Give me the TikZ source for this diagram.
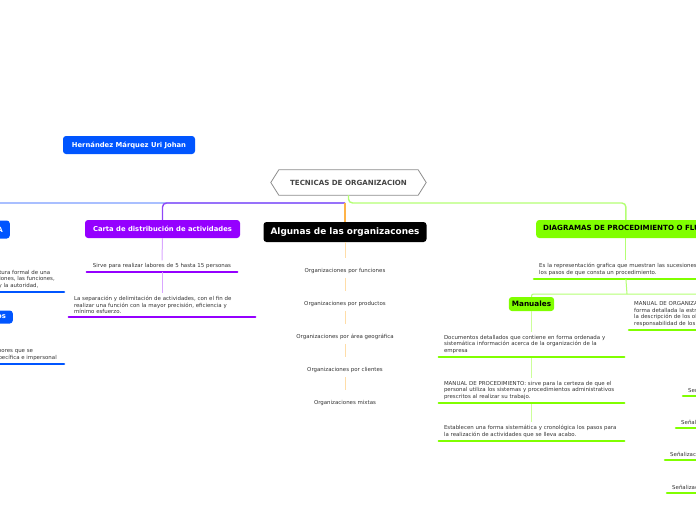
\documentclass[tikz,border=0pt]{standalone}
\usepackage{fontspec}
\setmainfont{DejaVu Sans}
\usetikzlibrary{calc}
\definecolor{bluebox}{HTML}{0055FF}
\definecolor{blueline}{HTML}{7B9CFF}
\definecolor{purplebox}{HTML}{9500FF}
\definecolor{purpleline}{HTML}{8F47F7}
\definecolor{purplelight}{HTML}{D9A6FF}
\definecolor{greenbox}{HTML}{80FF00}
\definecolor{greenline}{HTML}{B3FF73}
\definecolor{greenlight}{HTML}{CCFF99}
\definecolor{orangeline}{HTML}{FFB347}
\definecolor{orangelight}{HTML}{FFDDA8}
\definecolor{txt}{HTML}{333333}
\definecolor{titlegray}{HTML}{8C8C8C}
\definecolor{titletext}{HTML}{444444}
\tikzset{
  box/.style={rounded corners=3pt, inner xsep=7pt, inner ysep=0pt, minimum height=18pt,
    font=\bfseries\fontsize{6.8}{8}\selectfont},
  item/.style={font=\fontsize{5.45}{6.7}\selectfont, text=txt, inner xsep=5pt, inner ysep=3pt, align=left},
  orgitem/.style={font=\fontsize{5.45}{6.7}\selectfont, text=txt, inner xsep=0pt, inner ysep=4pt, align=center},
  ul/.style={line width=2.6pt, line cap=round},
  mainline/.style={line width=1.4pt, rounded corners=4pt},
  subline/.style={line width=1pt},
}
\begin{document}
\begin{tikzpicture}[x=1pt,y=-1pt]
\useasboundingbox (0,0) rectangle (696,520);
\clip (0,0) rectangle (696,520);

% name box
\node[box, fill=bluebox, text=white, minimum width=132pt] (name) at (129,145) {Hernández Márquez Uri Johan};

% title
\node[minimum width=155pt, minimum height=25pt, inner sep=0pt,
  font=\bfseries\fontsize{7.1}{8}\selectfont, text=titletext] (title) at (348.5,182.5) {TECNICAS DE ORGANIZACION};
\draw[titlegray, line width=0.8pt] (title.west) -- ([xshift=8pt]title.north west) -- ([xshift=-8pt]title.north east)
  -- (title.east) -- ([xshift=-8pt]title.south east) -- ([xshift=8pt]title.south west) -- cycle;

% main boxes
\node[box, fill=bluebox, text=white, anchor=east, font=\bfseries\fontsize{7.1}{8}\selectfont] (orgbox) at (10,229.5) {ORGANIGRAMA};
\node[box, fill=purplebox, text=white, minimum width=155pt] (carta) at (162.5,229) {Carta de distribución de actividades};
\node[box, fill=black, text=white, minimum width=163pt, minimum height=20pt,
  font=\bfseries\fontsize{8.9}{10}\selectfont] (alg) at (345,232) {Algunas de las organizacones};
\node[box, fill=greenbox, text=black, anchor=west, font=\bfseries\fontsize{7.1}{8}\selectfont] (diag) at (536,229) {DIAGRAMAS DE PROCEDIMIENTO O FLUJO};

% main connectors
\coordinate (hub) at (345,203);
\draw[mainline, blueline] (hub) -| (orgbox.north);
\draw[mainline, purpleline] (hub) -| (carta.north);
\draw[mainline, orangeline] (hub) -- (alg.north);
\draw[mainline, greenline] (title.south) -- (title.south |- hub) -| (diag.north);

% left (blue) branch
\node[item, inner xsep=9pt, anchor=south east] (orgdesc) at (64,292)
  {Es la representación gráfica de la estructura formal de una\\ organización, que muestra las interrelaciones, las funciones,\\ los niveles jerárquicos, las obligaciones y la autoridad,};
\draw[ul, bluebox] (orgdesc.south west) -- (orgdesc.south east);
\draw[subline, blueline] (orgbox.south) -- (orgdesc.north);
\node[box, fill=bluebox, text=white, anchor=east, minimum height=13pt] (orgesp) at (13,317) {Organigramas específicos};
\draw[subline, blueline] (orgdesc.south) |- ++(0,8) -| (orgesp.north);
\node[item, inner xsep=7pt, anchor=south east] (espdesc) at (64,364)
  {Es la descripción de las funciones y las labores que se\\ desempeñan en cada puesto de forma específica e impersonal};
\draw[ul, bluebox] (espdesc.south west) -- (espdesc.south east);
\draw[subline, blueline] (orgesp.south) -- (espdesc.north);

% purple branch
\node[item, align=center, text width=140pt, anchor=south] (sirve) at (162,272) {Sirve para realizar labores de 5 hasta 15 personas};
\draw[subline, purplelight] (carta.south) -- (sirve.north);
\draw[ul, purplebox] (sirve.south west) -- (sirve.south east);
\node[item, text width=176pt, anchor=south] (sep) at (162,317)
  {La separación y delimitación de actividades, con el fin de\\ realizar una función con la mayor precisión, eficiencia y\\ mínimo esfuerzo.};
\draw[subline, purplelight] (sirve.south) -- (sep.north);
\draw[ul, purplebox] (sep.south west) -- (sep.south east);

% orange branch
\node[orgitem] (f1) at (345,271) {Organizaciones por funciones};
\node[orgitem] (f2) at (345,304) {Organizaciones por productos};
\node[orgitem] (f3) at (345,337) {Organizaciones por área geográfica};
\node[orgitem] (f4) at (345,370) {Organizaciones por clientes};
\node[orgitem] (f5) at (345,403) {Organizaciones mixtas};
\draw[subline, orangelight, shorten >=6pt] (alg.south) -- (f1.north);
\draw[subline, orangelight, shorten >=6pt] (f1.south) -- (f2.north);
\draw[subline, orangelight, shorten >=6pt] (f2.south) -- (f3.north);
\draw[subline, orangelight, shorten >=6pt] (f3.south) -- (f4.north);
\draw[subline, orangelight, shorten >=6pt] (f4.south) -- (f5.north);

% green branch
\node[item, text width=190pt, anchor=south west] (ddesc) at (534,279)
  {Es la representación grafica que muestran las sucesiones de\\ los pasos de que consta un procedimiento.};
\draw[subline, greenline] (diag.south) -- (diag.south |- ddesc.north);
\draw[ul, greenbox] (ddesc.south west) -- (ddesc.south east);
\coordinate (fork) at (627,294);
\node[box, fill=greenbox, text=black, minimum height=14pt, inner xsep=3pt,
  font=\bfseries\fontsize{7.3}{8}\selectfont] (man) at (531.5,304) {Manuales};
\node[item, text width=190pt, anchor=south west] (morg) at (629,330)
  {MANUAL DE ORGANIZACIÓN: describe en\\ forma detallada la estructura organizacional,\\ la descripción de los objetivos, funciones y\\ responsabilidad de los puestos.};
\draw[ul, greenbox] (morg.south west) -- (morg.south east);
\draw[subline, greenline] (diag.south |- ddesc.south) -- (fork);
\draw[subline, greenline, rounded corners=2pt] (fork) -| (man.north);
\draw[subline, greenline, rounded corners=2pt] (fork) -| (morg.north);

\node[item, text width=175pt, anchor=south] (doc1) at (531.5,357)
  {Documentos detallados que contiene en forma ordenada y\\ sistemática información acerca de la organización de la\\ empresa};
\node[item, text width=175pt, anchor=south] (doc2) at (531.5,403)
  {MANUAL DE PROCEDIMIENTO: sirve para la certeza de que el\\ personal utiliza los sistemas y procedimientos administrativos\\ prescritos al realizar su trabajo.};
\node[item, text width=175pt, anchor=south] (doc3) at (531.5,441)
  {Establecen una forma sistemática y cronológica los pasos para\\ la realización de actividades que se lleva acabo.};
\draw[subline, greenlight] (man.south) -- (doc1.north);
\draw[subline, greenlight] (doc1.south) -- (doc2.north);
\draw[subline, greenlight] (doc2.south) -- (doc3.north);
\foreach \n in {doc1,doc2,doc3} \draw[ul, greenbox] (\n.south west) -- (\n.south east);

% right clipped items
\node[item, text width=100pt, anchor=south west] (s1) at (683,396) {Señalización};
\node[item, text width=100pt, anchor=south west] (s2) at (676,428) {Señalización};
\node[item, text width=100pt, anchor=south west] (s3) at (665,460) {Señalización};
\node[item, text width=100pt, anchor=south west] (s4) at (667,493) {Señalización};
\foreach \n in {s1,s2,s3,s4} \draw[ul, greenbox] (\n.south west) -- (\n.south east);
\end{tikzpicture}
\end{document}
